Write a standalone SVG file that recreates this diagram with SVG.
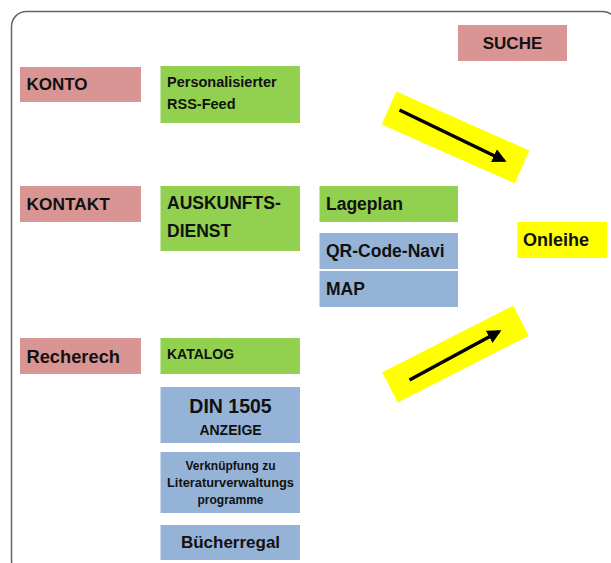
<svg xmlns="http://www.w3.org/2000/svg" width="611" height="563" viewBox="0 0 611 563">
<defs>
<style>
text{font-family:"Liberation Sans",Arial,sans-serif;font-weight:bold;fill:#111}
.pink{fill:#d99594}
.green{fill:#92d050}
.blue{fill:#95b3d7}
.yel{fill:#ffff00}
.arr{stroke:#000;stroke-width:3.5;fill:none;marker-end:url(#ah)}
</style>
<marker id="ah" viewBox="0 0 10 10" refX="8" refY="5" markerWidth="4" markerHeight="4" orient="auto" markerUnits="strokeWidth">
<path d="M0,0 L10,5 L0,10 Z" fill="#000"/>
</marker>
</defs>
<rect x="11.5" y="11.5" width="606" height="564" rx="15" fill="#fff" stroke="#666" stroke-width="1.5"/>

<g id="suche"><rect class="pink" x="458" y="25" width="109" height="36"/><text x="512.5" y="49" font-size="17" text-anchor="middle">SUCHE</text></g>
<g id="konto"><rect class="pink" x="20" y="67" width="121" height="35"/><text x="26.5" y="90" font-size="17">KONTO</text></g>
<g id="rss"><rect class="green" x="160.5" y="66" width="139.5" height="57"/><text x="167" y="87" font-size="14.5">Personalisierter</text><text x="167" y="109" font-size="14.5">RSS-Feed</text></g>
<g id="kontakt"><rect class="pink" x="20" y="186" width="121" height="36"/><text x="26.5" y="210" font-size="17.3">KONTAKT</text></g>
<g id="auskunft"><rect class="green" x="160.5" y="186" width="139.5" height="65"/><text x="167" y="209" font-size="17.5">AUSKUNFTS-</text><text x="167" y="237" font-size="17.5">DIENST</text></g>
<g id="lageplan"><rect class="green" x="319.5" y="186" width="138.5" height="36"/><text x="326" y="210" font-size="17.5">Lageplan</text></g>
<g id="qr"><rect class="blue" x="319.5" y="233" width="138.5" height="36"/><text x="326" y="257" font-size="17.5">QR-Code-Navi</text></g>
<g id="map"><rect class="blue" x="319.5" y="271" width="138.5" height="36"/><text x="326" y="295" font-size="17.5">MAP</text></g>
<g id="onleihe"><rect class="yel" x="517.5" y="222" width="89.5" height="36"/><text x="523" y="246" font-size="18">Onleihe</text></g>
<g id="recherech"><rect class="pink" x="20" y="338" width="121" height="36"/><text x="26.5" y="363" font-size="18.3">Recherech</text></g>
<g id="katalog"><rect class="green" x="160.5" y="338" width="139.5" height="36"/><text x="167" y="359" font-size="14">KATALOG</text></g>
<g id="din"><rect class="blue" x="160.5" y="387" width="139.5" height="56"/><text x="230.5" y="413" font-size="19.5" text-anchor="middle">DIN 1505</text><text x="230.5" y="435" font-size="14" text-anchor="middle">ANZEIGE</text></g>
<g id="verknuepfung"><rect class="blue" x="160.5" y="452" width="139.5" height="61"/><text x="230.5" y="470" font-size="12" text-anchor="middle">Verknüpfung zu</text><text x="230.5" y="487" font-size="12" text-anchor="middle" textLength="127" lengthAdjust="spacingAndGlyphs">Literaturverwaltungs</text><text x="230.5" y="504" font-size="12" text-anchor="middle">programme</text></g>
<g id="buecherregal"><rect class="blue" x="160.5" y="525" width="139.5" height="35"/><text x="230.5" y="548" font-size="17" text-anchor="middle">Bücherregal</text></g>

<g id="connectors">
<rect class="yel" x="-72.75" y="-18" width="145.5" height="36" transform="translate(455.5 137.5) rotate(23.9)"/>
<line class="arr" x1="399.5" y1="110" x2="504" y2="160.5"/>
<rect class="yel" x="-73.5" y="-17" width="147" height="34" transform="translate(455.5 354) rotate(-27)"/>
<line class="arr" x1="409.5" y1="380" x2="499" y2="331.5"/>
</g>
</svg>
